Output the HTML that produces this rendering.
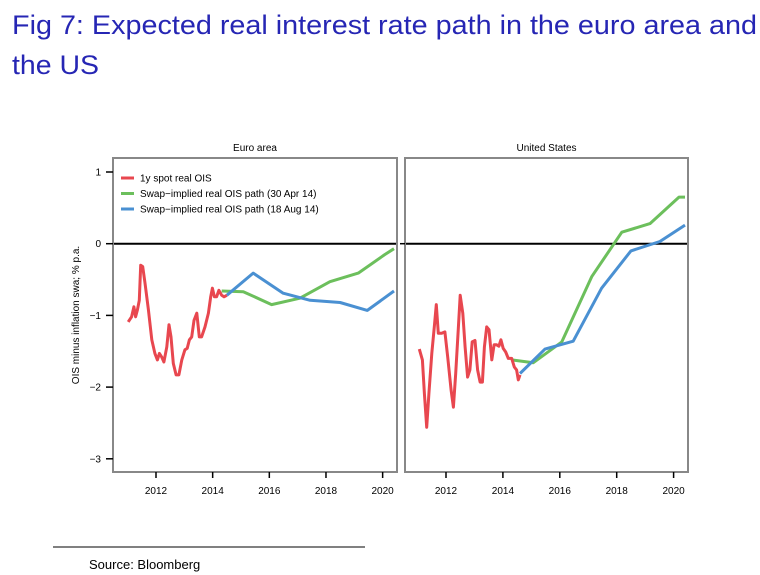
<!DOCTYPE html>
<html><head><meta charset="utf-8"><style>
html,body{margin:0;padding:0;background:#fff;width:760px;height:575px;overflow:hidden}
svg{display:block}
text{font-family:"Liberation Sans",sans-serif}
</style></head><body>
<svg id="chart" width="760" height="575" viewBox="0 0 760 575">
<text x="12" y="34" font-size="27" fill="#2626b4" textLength="745" lengthAdjust="spacingAndGlyphs">Fig 7: Expected real interest rate path in the euro area and</text>
<text x="12" y="74" font-size="27" fill="#2626b4" textLength="87" lengthAdjust="spacingAndGlyphs">the US</text>
<text x="79" y="315" font-size="10" fill="#000" text-anchor="middle" transform="rotate(-90 79 315)">OIS minus inflation swa; % p.a.</text>
<line x1="53" y1="547" x2="365" y2="547" stroke="#000" stroke-width="1"/>
<text x="89" y="569" font-size="13" fill="#000">Source:  Bloomberg</text>
<g id="plots"></g>
</svg>
<script>
const yTicks=[1,0,-1,-2,-3];
const xTicks=[2012,2014,2016,2018,2020];
const euRedX=[2011.02,2011.14,2011.22,2011.28,2011.34,2011.41,2011.46,2011.53,2011.61,2011.73,2011.85,2011.96,2012.05,2012.12,2012.20,2012.28,2012.38,2012.46,2012.53,2012.61,2012.71,2012.81,2012.91,2013.02,2013.10,2013.18,2013.26,2013.34,2013.44,2013.53,2013.61,2013.73,2013.85,2013.93,2013.99,2014.06,2014.14,2014.22,2014.32,2014.40,2014.50];
const euRedY=[-1.09,-1.02,-0.88,-1.02,-0.93,-0.79,-0.30,-0.32,-0.55,-0.92,-1.34,-1.53,-1.62,-1.53,-1.58,-1.65,-1.44,-1.13,-1.30,-1.67,-1.83,-1.83,-1.62,-1.48,-1.46,-1.34,-1.30,-1.07,-0.97,-1.30,-1.30,-1.16,-0.97,-0.74,-0.62,-0.74,-0.74,-0.65,-0.72,-0.74,-0.72];
const euGreenX=[2014.32,2015.08,2016.08,2017.08,2018.14,2019.14,2020.08,2020.4];
const euGreenY=[-0.66,-0.67,-0.85,-0.76,-0.53,-0.41,-0.15,-0.07];
const euBlueX=[2014.50,2015.43,2016.49,2017.44,2018.50,2019.46,2020.4];
const euBlueY=[-0.72,-0.41,-0.69,-0.79,-0.82,-0.93,-0.66];
const usRedX=[2011.06,2011.17,2011.24,2011.32,2011.40,2011.50,2011.59,2011.66,2011.73,2011.85,2011.96,2012.06,2012.18,2012.26,2012.34,2012.43,2012.50,2012.59,2012.67,2012.76,2012.84,2012.92,2013.02,2013.11,2013.20,2013.28,2013.35,2013.43,2013.51,2013.61,2013.69,2013.78,2013.86,2013.93,2014.01,2014.10,2014.19,2014.31,2014.40,2014.48,2014.54,2014.60];
const usRedY=[-1.47,-1.62,-2.09,-2.56,-2.09,-1.53,-1.16,-0.85,-1.25,-1.25,-1.23,-1.58,-2.04,-2.28,-1.81,-1.21,-0.72,-0.97,-1.44,-1.86,-1.76,-1.37,-1.35,-1.76,-1.93,-1.93,-1.44,-1.16,-1.20,-1.62,-1.41,-1.41,-1.43,-1.34,-1.46,-1.51,-1.60,-1.60,-1.72,-1.76,-1.90,-1.83];
const usGreenX=[2014.31,2015.07,2016.07,2017.12,2018.18,2019.17,2020.19,2020.4];
const usGreenY=[-1.62,-1.66,-1.37,-0.46,0.16,0.28,0.65,0.65];
const usBlueX=[2014.60,2015.48,2016.47,2017.47,2018.50,2019.52,2020.4];
const usBlueY=[-1.81,-1.47,-1.36,-0.62,-0.10,0.03,0.26];
const legendLabels=["1y spot real OIS","Swap\u2212implied real OIS path (30 Apr 14)","Swap\u2212implied real OIS path (18 Aug 14)"];

const NS="http://www.w3.org/2000/svg";
const RED="#e8474f",GREEN="#6cbf5c",BLUE="#4a90d2";
const root=document.getElementById('plots');
function mk(tag,attrs,parent){const e=document.createElementNS(NS,tag);for(const k in attrs)e.setAttribute(k,attrs[k]);(parent||root).appendChild(e);return e;}
const yScale=v=>243.7-v*71.7;

function panel(key,x0,x1,y2012,pxPerYear,title,series,showY){
  const xScale=yr=>y2012+(yr-2012)*pxPerYear;
  const g=mk('g',{});
  
  
  const t=mk('text',{x:(x0+x1)/2,y:151,'font-size':10,'text-anchor':'middle',fill:'#000'},g);
  t.textContent=title;
  
  
  const cp=mk('clipPath',{id:'clip-'+key},g);
  mk('rect',{x:x0,y:158,width:x1-x0,height:314},cp);
  // zero line
  const z=mk('line',{x1:x0,x2:x1,y1:yScale(0),y2:yScale(0),stroke:'#000','stroke-width':2},g);
  
  
  const lines=mk('g',{'clip-path':'url(#clip-'+key+')'},g);
  series.forEach(s=>{
    const pts=s.x.map((v,i)=>xScale(v).toFixed(1)+','+yScale(s.y[i]).toFixed(1)).join(' ');
    const p=mk('polyline',{points:pts,fill:'none',stroke:s.c,'stroke-width':3,'stroke-linejoin':'round'},lines);
    
    
  });
  const fr=mk('rect',{x:x0,y:158,width:x1-x0,height:314,fill:'none',stroke:'#888','stroke-width':2},g);
  
  
  xTicks.forEach(v=>{
    const X=xScale(v);
    mk('line',{x1:X,x2:X,y1:472,y2:478,stroke:'#000','stroke-width':1.5},g);
    const tt=mk('text',{x:X,y:494,'font-size':10,'text-anchor':'middle',fill:'#000'},g);
    tt.textContent=v;
    
    
  });
  if(showY){
    yTicks.forEach(v=>{
      const Y=yScale(v);
      mk('line',{x1:x0-7,x2:x0,y1:Y,y2:Y,stroke:'#000','stroke-width':1.5},g);
      const tt=mk('text',{x:x0-12,y:Y+3.5,'font-size':10,'text-anchor':'end',fill:'#000'},g);
      tt.textContent=v<0?'\u2212'+Math.abs(v):v;
      
      
    });
  } else {
    mk('line',{x1:x0-5,x2:x0,y1:yScale(0),y2:yScale(0),stroke:'#000','stroke-width':1.5},g);
  }
  return g;
}
const euG=panel('euro-area',113,397,156,28.33,'Euro area',[
  {x:euGreenX,y:euGreenY,c:GREEN,n:'swap-30apr'},
  {x:euBlueX,y:euBlueY,c:BLUE,n:'swap-18aug'},
  {x:euRedX,y:euRedY,c:RED,n:'spot'}],true);
panel('united-states',405,688,446,28.45,'United States',[
  {x:usGreenX,y:usGreenY,c:GREEN,n:'swap-30apr'},
  {x:usBlueX,y:usBlueY,c:BLUE,n:'swap-18aug'},
  {x:usRedX,y:usRedY,c:RED,n:'spot'}],false);
// legend
const lg=mk('g',{},euG);


[RED,GREEN,BLUE].forEach((c,i)=>{
  const Y=178+i*15.5;
  const e=mk('g',{},lg);
  
  
  mk('line',{x1:121,x2:134,y1:Y,y2:Y,stroke:c,'stroke-width':3},e);
  const t=mk('text',{x:140,y:Y+3.5,'font-size':10,fill:'#000'},e);
  t.textContent=legendLabels[i];
});
</script>
</body></html>
